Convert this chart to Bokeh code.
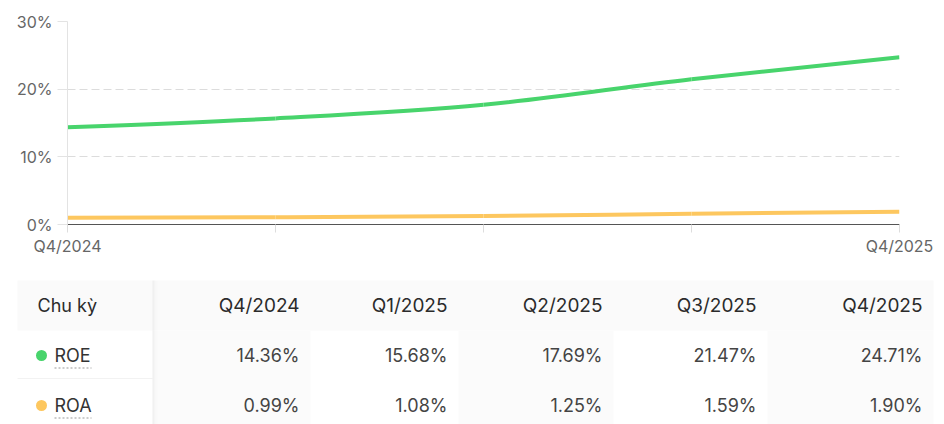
from bokeh.plotting import figure
from bokeh.models import Range1d, FixedTicker, PrintfTickFormatter, CustomJSTickFormatter, ColumnDataSource
from bokeh.core.properties import value
from bokeh.embed import file_html
from bokeh.resources import INLINE

# ---------------- data ----------------
quarters = ["Q4/2024", "Q1/2025", "Q2/2025", "Q3/2025", "Q4/2025"]
roe = [14.36, 15.68, 17.69, 21.47, 24.71]
roa = [0.99, 1.08, 1.25, 1.59, 1.90]
series_names = ["ROE", "ROA"]
series_values = [roe, roa]
series_colors = ["#48d46c", "#fdc75f"]
y_ticks = [0, 10, 20, 30]
header_label = "Chu kỳ"

FONT = "Inter"


def monotone_bezier(xs, ys):
    """Control points of a monotone-X cubic curve through the data (d3 curveMonotoneX)."""
    n = len(xs)
    h = [xs[i + 1] - xs[i] for i in range(n - 1)]
    s = [(ys[i + 1] - ys[i]) / h[i] for i in range(n - 1)]
    t = [0.0] * n

    def sign(v):
        return (v > 0) - (v < 0)

    for i in range(1, n - 1):
        p = (s[i - 1] * h[i] + s[i] * h[i - 1]) / (h[i - 1] + h[i])
        t[i] = (sign(s[i - 1]) + sign(s[i])) * min(abs(s[i - 1]), abs(s[i]), 0.5 * abs(p)) or 0.0
    t[0] = (3 * s[0] - t[1]) / 2
    t[-1] = (3 * s[-1] - t[-2]) / 2
    d = dict(x0=[], y0=[], x1=[], y1=[], cx0=[], cy0=[], cx1=[], cy1=[])
    for i in range(n - 1):
        dx = h[i] / 3
        d["x0"].append(xs[i]); d["y0"].append(ys[i])
        d["x1"].append(xs[i + 1]); d["y1"].append(ys[i + 1])
        d["cx0"].append(xs[i] + dx); d["cy0"].append(ys[i] + dx * t[i])
        d["cx1"].append(xs[i + 1] - dx); d["cy1"].append(ys[i + 1] - dx * t[i + 1])
    return d


# ---------------- chart ----------------
CH_H = 259
xs = list(range(len(quarters)))
p = figure(width=944, height=CH_H, x_range=Range1d(0, len(quarters) - 1), y_range=Range1d(0, 30),
           output_backend="svg", toolbar_location=None,
           min_border_left=67, min_border_right=45, min_border_top=21, min_border_bottom=35)
p.outline_line_color = None
p.xgrid.visible = False
p.ygrid.ticker = FixedTicker(ticks=y_ticks[1:])
p.ygrid.grid_line_color = "#dcdcdc"
p.ygrid.grid_line_dash = "8 4"

p.xaxis.ticker = FixedTicker(ticks=xs)
shown = [quarters[0]] + [""] * (len(quarters) - 2) + [quarters[-1]]
p.xaxis.formatter = CustomJSTickFormatter(args=dict(labels=shown),
                                          code="const i = Math.round(tick); return labels[i] || '';")
p.xaxis.axis_line_color = "#555555"
p.xaxis.major_tick_line_color = "#dddddd"
p.xaxis.major_tick_out = 8
p.xaxis.major_tick_in = 0
p.xaxis.minor_tick_line_color = None
p.xaxis.major_label_standoff = 3
p.xaxis.major_label_text_color = "#666666"
p.xaxis.major_label_text_font = FONT
p.xaxis.major_label_text_font_size = "16px"

p.yaxis.ticker = FixedTicker(ticks=y_ticks)
p.yaxis.formatter = PrintfTickFormatter(format="%d%%")
p.yaxis.axis_line_color = "#e3e3e3"
p.yaxis.major_tick_line_color = "#e3e3e3"
p.yaxis.major_tick_out = 10
p.yaxis.major_tick_in = 0
p.yaxis.minor_tick_line_color = None
p.yaxis.major_label_standoff = 5
p.yaxis.major_label_text_color = "#666666"
p.yaxis.major_label_text_font = FONT
p.yaxis.major_label_text_font_size = "16px"

for vals, col in zip(series_values[::-1], series_colors[::-1]):
    src = ColumnDataSource(monotone_bezier(xs, vals))
    p.bezier(x0="x0", y0="y0", x1="x1", y1="y1", cx0="cx0", cy0="cy0", cx1="cx1", cy1="cy1",
             source=src, line_color=col, line_width=4, line_cap="butt")

# ---------------- table ----------------
col_edges = [17, 152, 310, 458, 613, 767, 933]
row_edges = [280, 330, 378, 430]
pad_right = 11
label_x = 37

t = figure(width=944, height=424 - CH_H, x_range=Range1d(0, 944), y_range=Range1d(424, CH_H),
           output_backend="svg", toolbar_location=None, min_border=0,
           x_axis_location=None, y_axis_location=None)
t.outline_line_color = None
t.grid.visible = False

# header background
t.quad(left=[col_edges[0]], right=[col_edges[-1]], top=[row_edges[0]], bottom=[row_edges[1]],
       fill_color="#fafafa", line_color=None)
# striped value columns
stripe_l, stripe_r = [], []
for j in range(len(quarters)):
    if j % 2 == 0:
        stripe_l.append(col_edges[j + 1]); stripe_r.append(col_edges[j + 2])
t.quad(left=stripe_l, right=stripe_r, top=[row_edges[1]] * len(stripe_l),
       bottom=[row_edges[-1]] * len(stripe_l), fill_color="#fbfbfb", line_color=None)
# row separator in the first column
t.segment(x0=[col_edges[0]], x1=[col_edges[1]], y0=[row_edges[2]], y1=[row_edges[2]],
          line_color="#f2f2f2", line_width=1)
# sticky-column shadow
for k, a in enumerate([0.05, 0.03, 0.02, 0.012, 0.006]):
    t.segment(x0=[col_edges[1] + k + 0.5], x1=[col_edges[1] + k + 0.5],
              y0=[row_edges[0]], y1=[row_edges[-1]], line_color="#000000", line_alpha=a, line_width=1)

# header texts
hy = (row_edges[0] + row_edges[1]) / 2
t.text(x=[label_x], y=[hy], text=[header_label], text_align="left", text_baseline="middle",
       text_font=value(FONT), text_font_size="18px", text_color="#2b2b2b")
val_x = [col_edges[j + 2] - pad_right for j in range(len(quarters))]
t.text(x=val_x, y=[hy] * len(quarters), text=quarters, text_align="right", text_baseline="middle",
       text_font=value(FONT), text_font_size="19px", text_color="#2b2b2b")

# rows
row_centers = [355, 405]
for i, (name, vals, col) in enumerate(zip(series_names, series_values, series_colors)):
    ry = row_centers[i]
    t.scatter(x=[label_x + 4], y=[ry], size=11, fill_color=col, line_color=None)
    t.text(x=[label_x + 17], y=[ry], text=[name], text_align="left", text_baseline="middle",
           text_font=value(FONT), text_font_size="18px", text_color="#333333")
    t.segment(x0=[label_x + 17], x1=[label_x + 54], y0=[ry + 12.5], y1=[ry + 12.5],
              line_color="#999999", line_dash="2 2", line_width=1)
    t.text(x=val_x, y=[ry] * len(vals), text=["%.2f%%" % v for v in vals], text_align="right",
           text_baseline="middle", text_font=value(FONT), text_font_size="18px", text_color="#444444")

open("out.html", "w").write(file_html([p, t], INLINE))
